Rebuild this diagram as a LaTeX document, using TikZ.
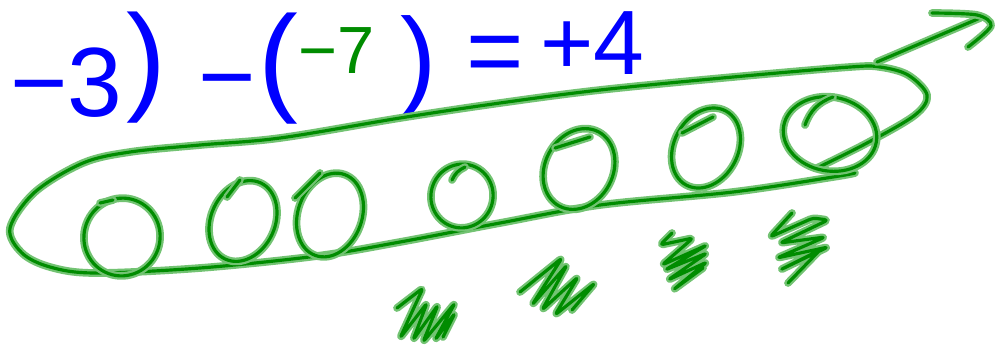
\documentclass[tikz,border=0pt]{standalone}
\usepackage{fontspec}
\setmainfont{Liberation Sans}
\usetikzlibrary{positioning}
\definecolor{inkgreen}{RGB}{0,140,0}
\definecolor{halogreen}{RGB}{115,195,115}
\definecolor{inkblue}{RGB}{0,0,255}

\begin{document}
\begin{tikzpicture}[
  x=0.02cm, y=-0.02cm,
  gline/.style={draw=inkgreen,line width=1.8pt,line cap=round,line join=round,
    preaction={draw=halogreen,line width=4.4pt,line cap=round,line join=round}},
  blu/.style={inkblue,inner sep=0pt},
  grn/.style={inkgreen,inner sep=0pt}
]
\useasboundingbox (0,0) rectangle (999,349);

% the sum written on top
\node[blu,anchor=base west,font=\fontsize{56}{60}\selectfont] (mthree) at (10,116) {−3};
\node[blu,anchor=base west,font=\fontsize{68}{72}\selectfont] (rpa)    at (126,98)  {)};
\node[blu,anchor=base west,font=\fontsize{56}{60}\selectfont] (minus)  at (198,110) {−};
\node[blu,anchor=base west,font=\fontsize{68}{72}\selectfont] (lpb)    at (258,99)  {(};
\node[grn,anchor=base west,font=\fontsize{38}{42}\selectfont] (mseven) at (298,73)  {−7};
\node[blu,anchor=base west,font=\fontsize{62}{66}\selectfont] (rpb)    at (400,94)  {)};
\node[blu,anchor=base west,font=\fontsize{56}{60}\selectfont] (eq)     at (466,84)  {=};
\node[blu,anchor=base west,font=\fontsize{52}{56}\selectfont] (pfour)  at (540,74)  {+4};

% the long loop round the counters
\draw[gline] plot[smooth,tension=0.55] coordinates {
  (817,168) (867,143) (915,115) (927,95) (908,75) (880,67) (850,67)
  (733,77) (600,90) (500,103) (400,118) (280,138) (200,145) (130,152)
  (83,163) (35,192) (10,228) (22,253) (50,267) (95,273) (200,268)
  (317,256) (400,242) (500,223) (600,205) (733,192) (833,177) (855,173)};

% arrow out of the loop
\draw[gline] (877,62) -- (980,18);
\draw[gline] plot[smooth,tension=0.5] coordinates {(932,13) (977,15) (991,26) (968,47)};

% counters
\draw[gline] (122,237) ellipse[x radius=38,y radius=39,rotate=-20];
\draw[gline] (100,203) -- (113,200);
\draw[gline] (243,221) ellipse[x radius=32,y radius=42,rotate=-25];
\draw[gline] (240,180) -- (227,197);
\draw[gline] (330,215) ellipse[x radius=32,y radius=43,rotate=-20];
\draw[gline] (295,198) -- (320,173);
\draw[gline] (462,196) ellipse[x radius=31,y radius=32,rotate=-20];
\draw[gline] (452,180) to[bend left=20] (465,167);
\draw[gline] (579,169) ellipse[x radius=34,y radius=42,rotate=-28];
\draw[gline] (555,148) -- (590,137);
\draw[gline] (706,148) ellipse[x radius=32,y radius=42,rotate=-28];
\draw[gline] (682,133) -- (713,117);
\draw[gline] (830,134) ellipse[x radius=47,y radius=37,rotate=-10];
\draw[gline] (805,125) to[bend left=25] (833,97);

% scribbled counters below
\draw[gline,rounded corners=2pt] (397,308) -- (423,288) -- (400,338) -- (427,303)
  -- (413,340) -- (438,305) -- (423,342) -- (455,303) -- (435,340) -- (455,313) -- (443,337);
\draw[gline,rounded corners=2pt] (520,292) -- (562,258) -- (532,305) -- (567,265)
  -- (542,310) -- (578,277) -- (555,315) -- (595,283) -- (572,310);
\draw[gline,rounded corners=2pt] (672,233) -- (660,245) -- (693,238) -- (662,265)
  -- (707,245) -- (665,270) -- (707,253) -- (668,280) -- (707,262) -- (673,290) -- (703,268);
\draw[gline,rounded corners=2pt] (792,213) -- (770,237) -- (813,218) -- (828,220)
  -- (780,243) -- (825,237) -- (777,258) -- (828,247) -- (780,270) -- (820,250) -- (788,283);
\end{tikzpicture}
\end{document}
